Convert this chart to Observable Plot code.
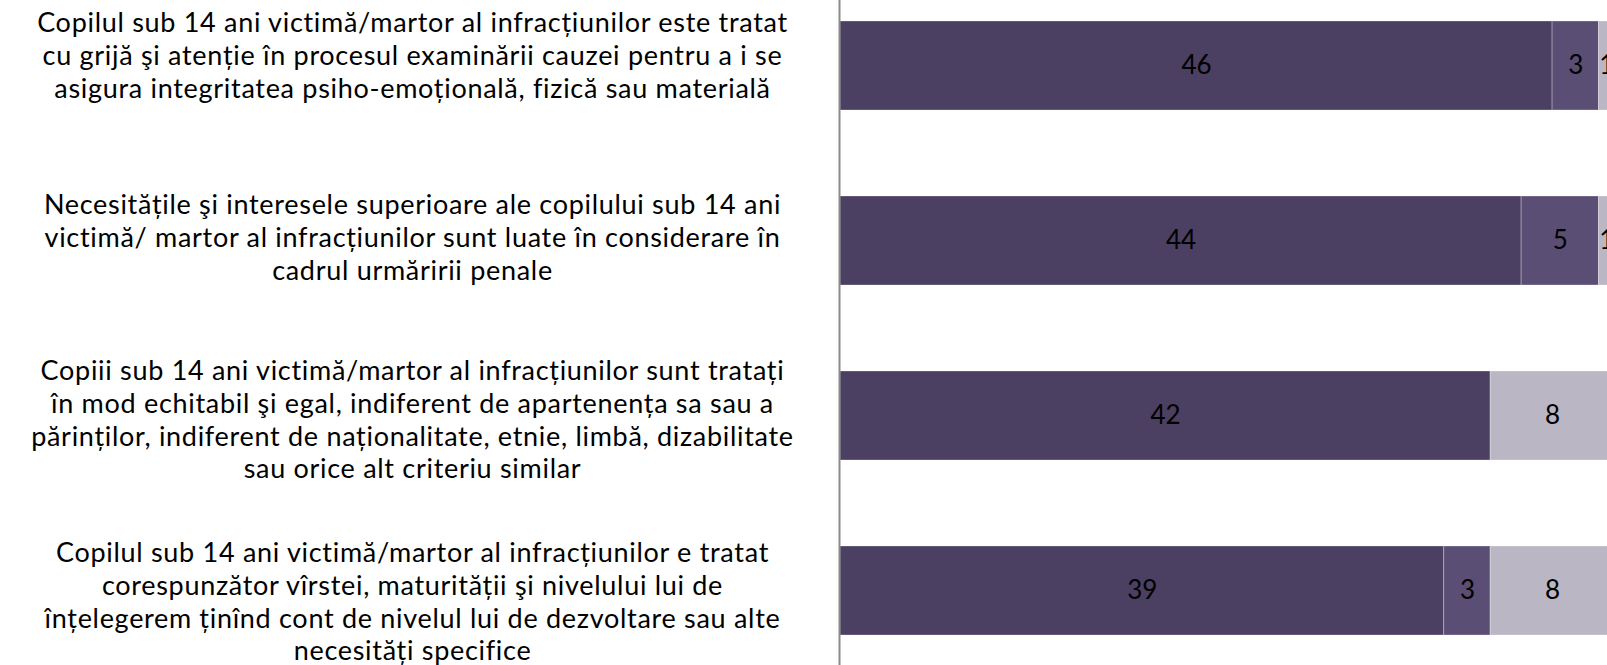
<!DOCTYPE html>
<html>
<head>
<meta charset="utf-8">
<script src="https://cdn.jsdelivr.net/npm/d3@7"></script>
<script src="https://cdn.jsdelivr.net/npm/@observablehq/plot@0.6"></script>
<style>
  html, body { margin: 0; padding: 0; background: #fff; overflow: hidden; }
  #chart { position: relative; width: 1607px; height: 665px; }
  #chart svg { overflow: hidden; display: block; }
  #labels { position: absolute; left: 0; top: 0; }
  #labels text { letter-spacing: 0.7px; }
</style>
</head>
<body>
<div id="chart"><div id="bars"></div><div id="labels"></div></div>
<script>
const categories = [
  "Copilul sub 14 ani victimă/martor al infracțiunilor este tratat\ncu grijă şi atenție în procesul examinării cauzei pentru a i se\nasigura integritatea psiho-emoțională, fizică sau materială",
  "Necesitățile şi interesele superioare ale copilului sub 14 ani\nvictimă/ martor al infracțiunilor sunt luate în considerare în\ncadrul urmăririi penale",
  "Copiii sub 14 ani victimă/martor al infracțiunilor sunt tratați\nîn mod echitabil şi egal, indiferent de apartenența sa sau a\npărinților, indiferent de naționalitate, etnie, limbă, dizabilitate\nsau orice alt criteriu similar",
  "Copilul sub 14 ani victimă/martor al infracțiunilor e tratat\ncorespunzător vîrstei, maturității şi nivelului lui de\nînțelegerem ținînd cont de nivelul lui de dezvoltare sau alte\nnecesități specifice"
];
const seriesKeys = ["s1", "s2", "s3"];
const series1 = [46, 44, 42, 39];
const series2 = [3, 5, 0, 3];
const series3 = [1, 1, 8, 8];
const seriesColors = ["#4B3F62", "#5B4E74", "#BAB6C4"];

const allSeries = [series1, series2, series3];
const rows = [];
categories.forEach((c, i) => {
  allSeries.forEach((s, k) => {
    rows.push({cat: c, series: seriesKeys[k], order: k, value: s[i]});
  });
});

const fontFamily = "Lato, 'Open Sans', sans-serif";

const barsPlot = Plot.plot({
  width: 1607,
  height: 665,
  marginLeft: 840,
  marginRight: 0,
  marginTop: 0,
  marginBottom: 0,
  style: {fontFamily, background: "#fff", overflow: "hidden"},
  x: {domain: [0, 50], range: [840, 1614], axis: null},
  y: {domain: categories, range: [-23, 679], paddingInner: 0.49, paddingOuter: 0.245, axis: null},
  color: {domain: seriesKeys, range: seriesColors},
  marks: [
    Plot.barX(rows, Plot.stackX({
      x: "value", y: "cat", fill: "series", order: "order",
      stroke: "white", strokeOpacity: 0.3, strokeWidth: 1
    })),
    Plot.text(rows, Plot.stackX({
      x: "value", y: "cat", order: "order",
      text: d => d.value > 0 ? String(d.value) : "",
      fill: "black", fontSize: 26
    })),
    Plot.ruleX([0], {stroke: "#8c8c8c", strokeWidth: 2, dx: -1})
  ]
});
document.getElementById("bars").appendChild(barsPlot);

const labelPlot = Plot.plot({
  width: 840,
  height: 665,
  margin: 0,
  style: {fontFamily, background: "transparent", overflow: "visible"},
  x: {axis: null},
  y: {type: "point", domain: categories, range: [53, 601], padding: 0, axis: null},
  marks: [
    Plot.text(categories, {
      y: d => d, text: d => d, frameAnchor: "middle", textAnchor: "middle",
      dx: -8, lineHeight: 1.22, fontSize: 27, fill: "black"
    })
  ]
});
document.getElementById("labels").appendChild(labelPlot);
</script>
</body>
</html>
